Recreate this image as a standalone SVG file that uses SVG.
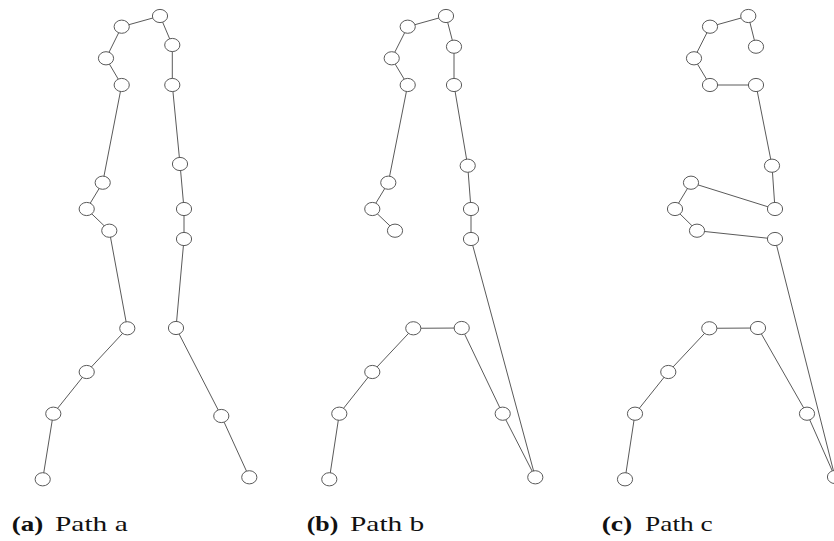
<svg xmlns="http://www.w3.org/2000/svg" xmlns:xlink="http://www.w3.org/1999/xlink" width="834" height="541" viewBox="0 0 834 541">
  <style>
    .edge { fill: none; stroke: #5a5a5a; stroke-width: 1; stroke-linejoin: round; }
    .node { fill: #ffffff; stroke: #5a5a5a; stroke-width: 1; }
    .cap { font-family: "Liberation Serif", "DejaVu Serif", serif; font-size: 21px; fill: #111; }
    .cap .b { font-weight: bold; }
  </style>
  <defs>
    <ellipse id="dot" cx="0" cy="0" rx="7.6" ry="6.6"/>
  </defs>
  <rect width="834" height="541" fill="#ffffff"/>

  <!-- connectors -->
  <g id="connectors" class="edge">
    <!-- path a -->
    <polyline points="160,16 121.7,26.7 106,58.3 121.7,85 102.7,182.7 86.7,209 109.3,230.7 127.3,328.3 86.7,372 53.3,413.7 42.7,479.3"/>
    <polyline points="160,16 172.3,45 172.3,85 180,164 184,209 184,239 176,328 221.3,416 249.3,477.3"/>
    <!-- path b -->
    <polyline points="446,16 407.7,26.7 391.7,58.3 407.7,85 388.3,182.7 372.3,209 395,230.7"/>
    <polyline points="446,16 454,46.7 454,85 467.7,165.7 471,209 471,239 535.3,477.3 502.7,413.7 461.7,328 413.3,328.3 372.3,372 339.3,413.7 329.3,479.3"/>
    <!-- path c -->
    <polyline points="756,46.7 748.3,16 710,26.7 694,58.3 710,85 756,85 772,165.7 775,209 691,182.7 675,209 697,230.7 775,239 835,477 807,413.7 758,328 709.3,328.3 668.3,372 635,413.7 625,479.3"/>
  </g>

  <!-- path a nodes -->
  <g id="a_head" class="node"><use xlink:href="#dot" x="160" y="16"/></g>
  <g id="a_l1" class="node"><use xlink:href="#dot" x="121.7" y="26.7"/></g>
  <g id="a_l2" class="node"><use xlink:href="#dot" x="106" y="58.3"/></g>
  <g id="a_l3" class="node"><use xlink:href="#dot" x="121.7" y="85"/></g>
  <g id="a_l4" class="node"><use xlink:href="#dot" x="102.7" y="182.7"/></g>
  <g id="a_l5" class="node"><use xlink:href="#dot" x="86.7" y="209"/></g>
  <g id="a_l6" class="node"><use xlink:href="#dot" x="109.3" y="230.7"/></g>
  <g id="a_l7" class="node"><use xlink:href="#dot" x="127.3" y="328.3"/></g>
  <g id="a_l8" class="node"><use xlink:href="#dot" x="86.7" y="372"/></g>
  <g id="a_l9" class="node"><use xlink:href="#dot" x="53.3" y="413.7"/></g>
  <g id="a_l10" class="node"><use xlink:href="#dot" x="42.7" y="479.3"/></g>
  <g id="a_r1" class="node"><use xlink:href="#dot" x="172.3" y="45"/></g>
  <g id="a_r2" class="node"><use xlink:href="#dot" x="172.3" y="85"/></g>
  <g id="a_r3" class="node"><use xlink:href="#dot" x="180" y="164"/></g>
  <g id="a_r4" class="node"><use xlink:href="#dot" x="184" y="209"/></g>
  <g id="a_r5" class="node"><use xlink:href="#dot" x="184" y="239"/></g>
  <g id="a_r6" class="node"><use xlink:href="#dot" x="176" y="328"/></g>
  <g id="a_r7" class="node"><use xlink:href="#dot" x="221.3" y="416"/></g>
  <g id="a_r8" class="node"><use xlink:href="#dot" x="249.3" y="477.3"/></g>

  <!-- path b nodes -->
  <g id="b_head" class="node"><use xlink:href="#dot" x="446" y="16"/></g>
  <g id="b_l1" class="node"><use xlink:href="#dot" x="407.7" y="26.7"/></g>
  <g id="b_l2" class="node"><use xlink:href="#dot" x="391.7" y="58.3"/></g>
  <g id="b_l3" class="node"><use xlink:href="#dot" x="407.7" y="85"/></g>
  <g id="b_l4" class="node"><use xlink:href="#dot" x="388.3" y="182.7"/></g>
  <g id="b_l5" class="node"><use xlink:href="#dot" x="372.3" y="209"/></g>
  <g id="b_l6" class="node"><use xlink:href="#dot" x="395" y="230.7"/></g>
  <g id="b_r1" class="node"><use xlink:href="#dot" x="454" y="46.7"/></g>
  <g id="b_r2" class="node"><use xlink:href="#dot" x="454" y="85"/></g>
  <g id="b_r3" class="node"><use xlink:href="#dot" x="467.7" y="165.7"/></g>
  <g id="b_r4" class="node"><use xlink:href="#dot" x="471" y="209"/></g>
  <g id="b_r5" class="node"><use xlink:href="#dot" x="471" y="239"/></g>
  <g id="b_f1" class="node"><use xlink:href="#dot" x="535.3" y="477.3"/></g>
  <g id="b_f2" class="node"><use xlink:href="#dot" x="502.7" y="413.7"/></g>
  <g id="b_f3" class="node"><use xlink:href="#dot" x="461.7" y="328"/></g>
  <g id="b_f4" class="node"><use xlink:href="#dot" x="413.3" y="328.3"/></g>
  <g id="b_f5" class="node"><use xlink:href="#dot" x="372.3" y="372"/></g>
  <g id="b_f6" class="node"><use xlink:href="#dot" x="339.3" y="413.7"/></g>
  <g id="b_f7" class="node"><use xlink:href="#dot" x="329.3" y="479.3"/></g>

  <!-- path c nodes -->
  <g id="c_head" class="node"><use xlink:href="#dot" x="748.3" y="16"/></g>
  <g id="c_r1" class="node"><use xlink:href="#dot" x="756" y="46.7"/></g>
  <g id="c_l1" class="node"><use xlink:href="#dot" x="710" y="26.7"/></g>
  <g id="c_l2" class="node"><use xlink:href="#dot" x="694" y="58.3"/></g>
  <g id="c_l3" class="node"><use xlink:href="#dot" x="710" y="85"/></g>
  <g id="c_m1" class="node"><use xlink:href="#dot" x="756" y="85"/></g>
  <g id="c_m2" class="node"><use xlink:href="#dot" x="772" y="165.7"/></g>
  <g id="c_m3" class="node"><use xlink:href="#dot" x="775" y="209"/></g>
  <g id="c_m4" class="node"><use xlink:href="#dot" x="691" y="182.7"/></g>
  <g id="c_m5" class="node"><use xlink:href="#dot" x="675" y="209"/></g>
  <g id="c_m6" class="node"><use xlink:href="#dot" x="697" y="230.7"/></g>
  <g id="c_m7" class="node"><use xlink:href="#dot" x="775" y="239"/></g>
  <g id="c_f1" class="node"><use xlink:href="#dot" x="835" y="477"/></g>
  <g id="c_f2" class="node"><use xlink:href="#dot" x="807" y="413.7"/></g>
  <g id="c_f3" class="node"><use xlink:href="#dot" x="758" y="328"/></g>
  <g id="c_f4" class="node"><use xlink:href="#dot" x="709.3" y="328.3"/></g>
  <g id="c_f5" class="node"><use xlink:href="#dot" x="668.3" y="372"/></g>
  <g id="c_f6" class="node"><use xlink:href="#dot" x="635" y="413.7"/></g>
  <g id="c_f7" class="node"><use xlink:href="#dot" x="625" y="479.3"/></g>

  <!-- sub-figure captions -->
  <g class="cap">
    <text x="11.7" y="530.5" class="b" textLength="31.6" lengthAdjust="spacingAndGlyphs">(a)</text>
    <text x="55" y="530.5" textLength="72.7" lengthAdjust="spacingAndGlyphs">Path a</text>
    <text x="306.7" y="530.5" class="b" textLength="31.6" lengthAdjust="spacingAndGlyphs">(b)</text>
    <text x="350" y="530.5" textLength="74.3" lengthAdjust="spacingAndGlyphs">Path b</text>
    <text x="601.7" y="530.5" class="b" textLength="30.6" lengthAdjust="spacingAndGlyphs">(c)</text>
    <text x="645" y="530.5" textLength="67.7" lengthAdjust="spacingAndGlyphs">Path c</text>
  </g>
</svg>
